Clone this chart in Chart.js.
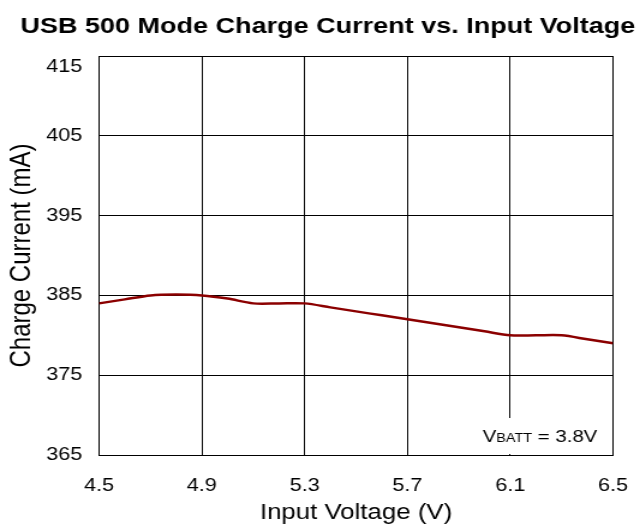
<!DOCTYPE html>
<html><head><meta charset="utf-8">
<script src="https://cdn.jsdelivr.net/npm/chart.js@4"></script>
<style>
html,body{margin:0;padding:0;background:#fff;overflow:hidden}
#wrap{width:533px;height:532px;transform:scaleX(1.2008);transform-origin:0 0}
</style>
</head><body><div id="wrap"><canvas id="c" width="533" height="532"></canvas></div>
<script>
const inputVoltage = [4.5,4.6,4.7,4.8,4.9,5.0,5.1,5.2,5.3,5.4,5.5,5.6,5.7,5.8,5.9,6.0,6.1,6.2,6.3,6.4,6.5];
const chargeCurrent = [384.0,384.5,385.0,385.1,385.0,384.6,384.0,384.0,384.0,383.5,383.0,382.5,382.0,381.5,381.0,380.5,380.0,380.0,380.0,379.5,379.0];
const xTicks = [4.5,4.9,5.3,5.7,6.1,6.5];
const yTicks = [365,375,385,395,405,415];
const titleText = 'USB 500 Mode Charge Current vs. Input Voltage';

const FONT = '"Liberation Sans", Arial, sans-serif';

const annot = {
  id:'annot',
  afterDraw(chart){
    const ctx = chart.ctx, a = chart.chartArea;
    ctx.save();
    // title
    ctx.fillStyle = '#000';
    ctx.font = 'bold 22.5px ' + FONT;
    ctx.textAlign = 'center';
    ctx.textBaseline = 'alphabetic';
    ctx.fillText(titleText, 273, 33);
    // VBATT label
    ctx.fillStyle = '#fff';
    ctx.fillRect(a.right - 116, a.bottom - 37, 115, 36);
    ctx.fillStyle = '#000';
    ctx.textAlign = 'left';
    let x = a.right - 108.5, y = a.bottom - 13;
    ctx.font = '17px ' + FONT;
    ctx.fillText('V', x, y); x += ctx.measureText('V').width;
    ctx.font = '12px ' + FONT;
    ctx.fillText('BATT', x, y); x += ctx.measureText('BATT').width;
    ctx.font = '17px ' + FONT;
    ctx.fillText(' = 3.8V', x, y);
    ctx.restore();
  }
};

new Chart(document.getElementById('c'), {
  type:'line',
  data:{datasets:[{
    data: inputVoltage.map((v,i)=>({x:v,y:chargeCurrent[i]})),
    borderColor:'#8B0000', borderWidth:2.5, pointRadius:0, tension:0.3, fill:false
  }]},
  options:{
    responsive:false, animation:false,
    layout:{padding:{left:0,right:22.5,top:56,bottom:0}},
    plugins:{ legend:{display:false}, tooltip:{enabled:false}, title:{display:false} },
    scales:{
      x:{type:'linear', min:4.5, max:6.5,
        afterBuildTicks(s){ s.ticks = xTicks.map(v=>({value:v})); },
        afterFit(s){ s.height = 77; s.paddingLeft = 0; s.paddingRight = 0; },
        ticks:{color:'#000', font:{family:FONT,size:18}, padding:20, maxRotation:0,
          callback:v=>Number(v).toFixed(1)},
        grid:{color:'#000', lineWidth:1, drawTicks:false},
        border:{color:'#000', width:1},
        title:{display:true, text:'Input Voltage (V)', color:'#000', font:{family:FONT,size:21.5}, padding:{top:0,bottom:6.5}}
      },
      y:{type:'linear', min:365, max:415,
        afterBuildTicks(s){ s.ticks = yTicks.map(v=>({value:v})); },
        afterFit(s){ s.width = 82.5; s.paddingTop = 0; s.paddingBottom = 0; },
        ticks:{color:'#000', font:{family:FONT,size:18}, padding:14,
          callback:v=> v===415 ? ['', String(v)] : String(v)},
        grid:{color:'#000', lineWidth:1, drawTicks:false},
        border:{color:'#000', width:1},
        title:{display:true, text:'Charge Current (mA)', color:'#000', font:{family:FONT,size:24}, padding:{top:3.5,bottom:0}}
      }
    }
  },
  plugins:[annot]
});
</script></body></html>
